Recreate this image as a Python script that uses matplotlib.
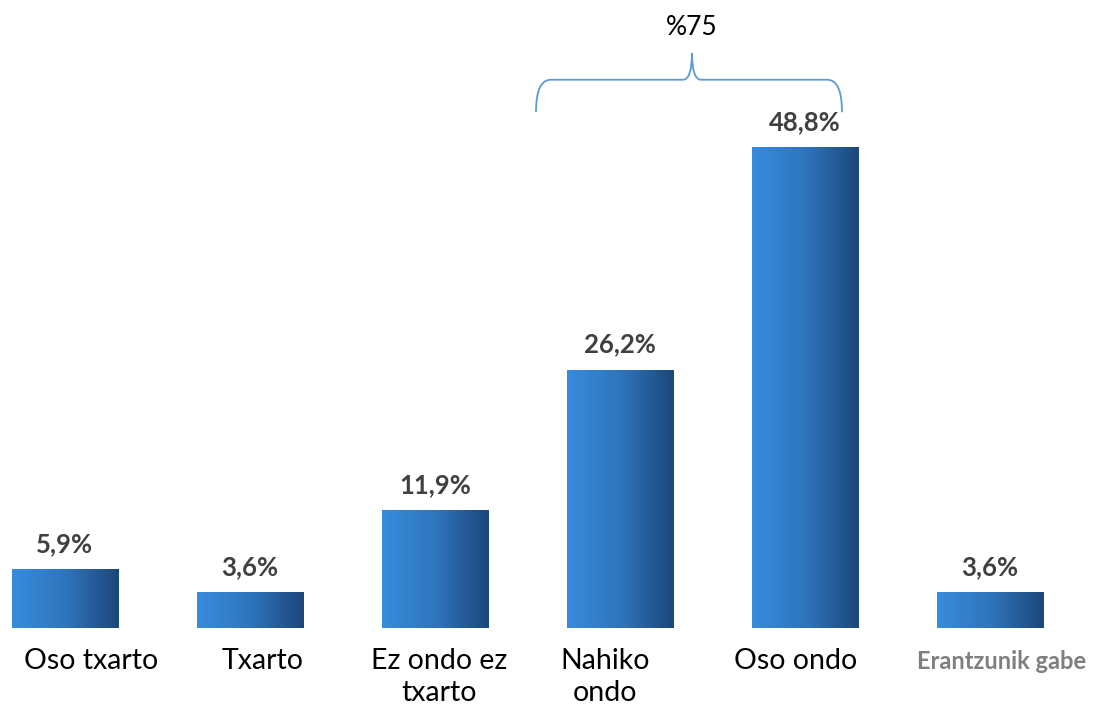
import numpy as np
import matplotlib.pyplot as plt
from matplotlib.colors import LinearSegmentedColormap
from matplotlib.path import Path
from matplotlib.patches import PathPatch

categories = ['Oso txarto', 'Txarto', 'Ez ondo ez\ntxarto', 'Nahiko\nondo', 'Oso ondo', 'Erantzunik gabe']
values = [5.9, 3.6, 11.9, 26.2, 48.8, 3.6]
value_labels = ['5,9%', '3,6%', '11,9%', '26,2%', '48,8%', '3,6%']
brace_text = '%75'

# label shifts relative to bar centre (layout only)
label_dx = [0.14, 0.07, 0.02, -0.08, -0.05, 0.06]

plt.rcParams['font.family'] = ['Lato', 'DejaVu Sans']

fig = plt.figure(figsize=(10.94, 7.09), dpi=100)
ax = fig.add_axes([0, 0, 1, 1])
ax.set_xlim(-0.351, 5.562)
ax.set_ylim(-8.23, 63.8)
ax.axis('off')

cmap = LinearSegmentedColormap.from_list('bar', ['#378CDC', '#2F75BC', '#1B477A'])
grad = np.linspace(0, 1, 256).reshape(1, -1)
w = 0.573

for i, v in enumerate(values):
    ax.imshow(grad, cmap=cmap, aspect='auto', extent=(i - w / 2, i + w / 2, 0, v),
              interpolation='bilinear', zorder=2)
    ax.text(i, v + 2.6, value_labels[i], ha='center', va='center', fontsize=18.5,
            fontweight='bold', color='#404040')
    if i == len(values) - 1:
        ax.text(i + label_dx[i], -3.45, categories[i], ha='center', va='center',
                fontsize=17, fontweight='bold', color='#7F7F7F')
    else:
        ax.text(i + label_dx[i], -2.0, categories[i], ha='center', va='top',
                fontsize=20.5, color='black', linespacing=1.3)

# brace over the last two answers
x0, x1, xm = 2.546, 4.2, 3.389
yb, yh, yt = 52.4, 55.7, 58.4
r = 0.08
verts = [(x0, yb), (x0, yh), (x0 + r, yh),
         (xm - 0.05, yh), (xm, yh), (xm, yt),
         (xm, yh), (xm + 0.05, yh),
         (x1 - r, yh), (x1, yh), (x1, yb)]
codes = [Path.MOVETO, Path.CURVE3, Path.CURVE3,
         Path.LINETO, Path.CURVE3, Path.CURVE3,
         Path.CURVE3, Path.CURVE3,
         Path.LINETO, Path.CURVE3, Path.CURVE3]
ax.add_patch(PathPatch(Path(verts, codes), fill=False, edgecolor='#5B9BD5', lw=1.3))
ax.text(xm, 61.0, brace_text, ha='center', va='center', fontsize=19, color='black')

fig.savefig('out.png', dpi=100)
